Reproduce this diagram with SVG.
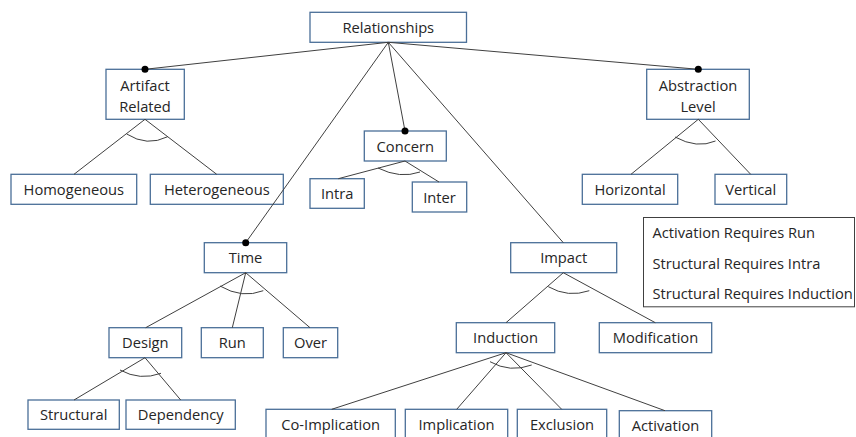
<svg xmlns="http://www.w3.org/2000/svg" width="856" height="437" viewBox="0 0 856 437">
<defs>
<style>
.box{fill:#fff;stroke:#4a6f98;stroke-width:1.3}
.t{font-family:"Open Sans","Liberation Sans",sans-serif;font-size:14.7px;fill:#262626;text-anchor:middle}
.lg{font-family:"Open Sans","Liberation Sans",sans-serif;font-size:14.7px;fill:#262626}
.ln{stroke:#404040;stroke-width:1;fill:none}
.arc{stroke:#404040;stroke-width:1;fill:none}
.dot{fill:#000}
</style>
</defs>
<rect width="856" height="437" fill="#fff"/>
<g id="relationships"><rect class="box" x="310" y="12.3" width="156.5" height="30"/><text class="t" x="388.3" y="32.5">Relationships</text></g>
<g id="artifact"><rect class="box" x="106" y="69.3" width="78.3" height="50"/><text class="t" x="145" y="91">Artifact</text><text class="t" x="145" y="111.5">Related</text></g>
<g id="homogeneous"><rect class="box" x="11" y="174.3" width="125.7" height="30"/><text class="t" x="73.8" y="195">Homogeneous</text></g>
<g id="heterogeneous"><rect class="box" x="150.3" y="174.3" width="133" height="30"/><text class="t" x="216.8" y="195">Heterogeneous</text></g>
<g id="concern"><rect class="box" x="364.3" y="131" width="82" height="30"/><text class="t" x="405.3" y="151.5">Concern</text></g>
<g id="intra"><rect class="box" x="310" y="178.7" width="54.3" height="29.6"/><text class="t" x="337.2" y="199">Intra</text></g>
<g id="inter"><rect class="box" x="412.3" y="182" width="54.4" height="30"/><text class="t" x="439.5" y="203">Inter</text></g>
<g id="abstraction"><rect class="box" x="646.7" y="69.3" width="102.6" height="50"/><text class="t" x="698" y="91">Abstraction</text><text class="t" x="698" y="111.5">Level</text></g>
<g id="horizontal"><rect class="box" x="582.3" y="174.3" width="95.4" height="30"/><text class="t" x="630" y="195">Horizontal</text></g>
<g id="vertical"><rect class="box" x="715" y="174.3" width="71.7" height="30"/><text class="t" x="750.8" y="195">Vertical</text></g>
<g id="time"><rect class="box" x="204.3" y="242.7" width="82.4" height="30"/><text class="t" x="245.5" y="263">Time</text></g>
<g id="design"><rect class="box" x="109" y="327.7" width="72.7" height="30"/><text class="t" x="145.3" y="348">Design</text></g>
<g id="run"><rect class="box" x="201.3" y="327.7" width="62" height="30"/><text class="t" x="232.3" y="348">Run</text></g>
<g id="over"><rect class="box" x="283.3" y="327.7" width="54.4" height="30"/><text class="t" x="310.5" y="348">Over</text></g>
<g id="structural"><rect class="box" x="28" y="400" width="91.3" height="29.3"/><text class="t" x="73.7" y="420">Structural</text></g>
<g id="dependency"><rect class="box" x="126" y="400" width="109.3" height="29.3"/><text class="t" x="180.7" y="420">Dependency</text></g>
<g id="impact"><rect class="box" x="510.7" y="242.7" width="106" height="30"/><text class="t" x="563.7" y="263">Impact</text></g>
<g id="induction"><rect class="box" x="456.3" y="322.7" width="98.4" height="30"/><text class="t" x="505.5" y="343">Induction</text></g>
<g id="modification"><rect class="box" x="599.3" y="322.7" width="112.4" height="30"/><text class="t" x="655.5" y="343">Modification</text></g>
<g id="coimplication"><rect class="box" x="266" y="409.3" width="129.3" height="40"/><text class="t" x="330.7" y="430">Co-Implication</text></g>
<g id="implication"><rect class="box" x="405.3" y="409.3" width="102.4" height="40"/><text class="t" x="456.5" y="430">Implication</text></g>
<g id="exclusion"><rect class="box" x="517.3" y="409.3" width="89.4" height="40"/><text class="t" x="562" y="430">Exclusion</text></g>
<g id="activation"><rect class="box" x="619.3" y="410.7" width="92.4" height="40"/><text class="t" x="665.5" y="431">Activation</text></g>
<g id="legend"><rect x="643.5" y="217.5" width="211" height="89.3" fill="#fff" stroke="#404040" stroke-width="1"/><text class="lg" x="652.5" y="238">Activation Requires Run</text><text class="lg" x="652.5" y="269">Structural Requires Intra</text><text class="lg" x="652.5" y="299">Structural Requires Induction</text></g>
<g id="connectors">
<line class="ln" x1="388.3" y1="42.3" x2="145" y2="69.3"/>
<line class="ln" x1="388.3" y1="42.3" x2="698.3" y2="69.3"/>
<line class="ln" x1="388.3" y1="42.3" x2="405" y2="131"/>
<line class="ln" x1="388.3" y1="42.3" x2="245.7" y2="242.7"/>
<line class="ln" x1="388.3" y1="42.3" x2="563.3" y2="242.7"/>
<circle class="dot" cx="145" cy="69.3" r="3.5"/>
<circle class="dot" cx="698.3" cy="69.3" r="3.5"/>
<circle class="dot" cx="405" cy="131" r="3.5"/>
<circle class="dot" cx="245.7" cy="242.7" r="3.5"/>
<line class="ln" x1="145" y1="119.3" x2="74" y2="174.3"/>
<line class="ln" x1="145" y1="119.3" x2="216.7" y2="174.3"/>
<path class="arc" d="M126.7,134 Q147,147 167.7,136.7"/>
<line class="ln" x1="405" y1="161" x2="338.3" y2="178.7"/>
<line class="ln" x1="405" y1="161" x2="439" y2="182"/>
<path class="arc" d="M378,168 Q400,179 420,172"/>
<line class="ln" x1="698.3" y1="119.3" x2="631" y2="174.3"/>
<line class="ln" x1="698.3" y1="119.3" x2="750.7" y2="174.3"/>
<path class="arc" d="M675,137 Q697,149 715.5,141"/>
<line class="ln" x1="245.7" y1="272.7" x2="145.7" y2="327.7"/>
<line class="ln" x1="245.7" y1="272.7" x2="232.3" y2="327.7"/>
<line class="ln" x1="245.7" y1="272.7" x2="310" y2="327.7"/>
<path class="arc" d="M220,286 Q242,299 263.3,290.7"/>
<line class="ln" x1="145" y1="357.7" x2="74" y2="400"/>
<line class="ln" x1="145" y1="357.7" x2="180.7" y2="400"/>
<path class="arc" d="M120,370 Q140,381 161,373.3"/>
<line class="ln" x1="563.3" y1="272.7" x2="506" y2="322.7"/>
<line class="ln" x1="563.3" y1="272.7" x2="655.3" y2="322.7"/>
<path class="arc" d="M548.3,286.7 Q568,298 589.3,290.7"/>
<line class="ln" x1="506" y1="352.7" x2="331.7" y2="409.3"/>
<line class="ln" x1="506" y1="352.7" x2="456.7" y2="409.3"/>
<line class="ln" x1="506" y1="352.7" x2="561.7" y2="409.3"/>
<line class="ln" x1="506" y1="352.7" x2="665" y2="410.7"/>
<path class="arc" d="M490,361.7 Q510,373 531.7,365"/>
</g>
</svg>
